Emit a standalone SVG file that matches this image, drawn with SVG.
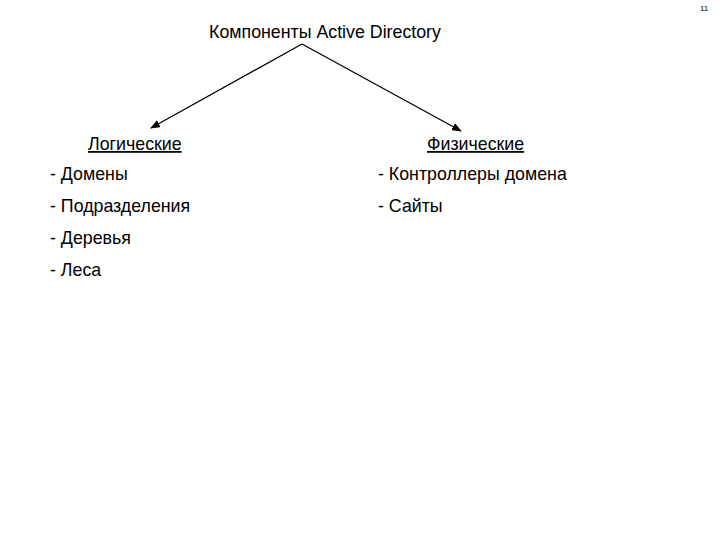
<svg xmlns="http://www.w3.org/2000/svg" width="720" height="540" viewBox="0 0 720 540">
<style>
text{font-family:"Liberation Sans",Arial,sans-serif;fill:#000;font-size:17.8px}
.u{text-decoration:underline}
.c line{stroke:#000;stroke-width:1.3}
</style>
<defs><marker id="a" markerWidth="10" markerHeight="8" refX="9" refY="4" orient="auto" markerUnits="userSpaceOnUse"><path d="M0,0L10,4L0,8z" fill="#000"/></marker></defs>
<rect width="720" height="540" fill="#fff"/>
<text x="700" y="11" style="font-size:8px">11</text>
<g id="root"><text x="325" y="38" text-anchor="middle">Компоненты Active Directory</text></g>
<g class="c" id="connectors">
<line x1="302" y1="44" x2="151" y2="128" marker-end="url(#a)"/>
<line x1="302" y1="44" x2="461" y2="131" marker-end="url(#a)"/>
</g>
<g id="logical"><text x="88" y="150" class="u">Логические</text>
<text x="50" y="180">- Домены</text>
<text x="50" y="212">- Подразделения</text>
<text x="50" y="244">- Деревья</text>
<text x="50" y="276">- Леса</text></g>
<g id="physical"><text x="427" y="150" class="u">Физические</text>
<text x="378" y="180">- Контроллеры домена</text>
<text x="378" y="212">- Сайты</text></g>
</svg>
